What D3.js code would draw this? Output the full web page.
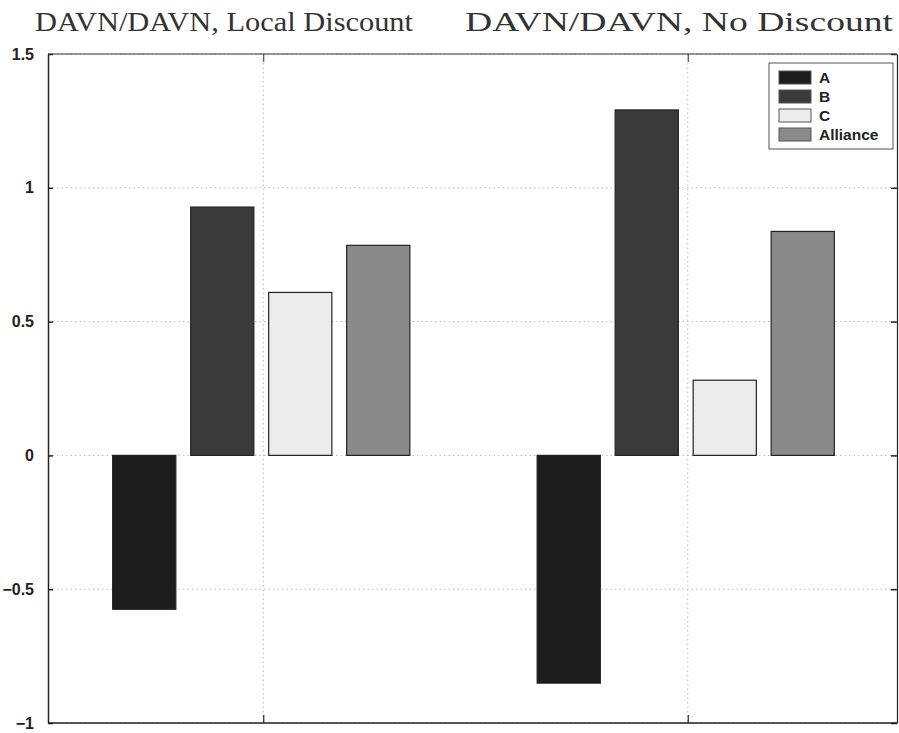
<!DOCTYPE html>
<html><head><meta charset="utf-8">
<script src="https://cdn.jsdelivr.net/npm/d3@7"></script>
<style>body{margin:0;background:#fff}svg{display:block}</style>
</head><body>
<svg id="chart" width="899" height="733"></svg>
<script>
const groups = [1, 2];
const titles = ["DAVN/DAVN, Local Discount", "DAVN/DAVN, No Discount"];
const series = ["A", "B", "C", "Alliance"];
const valuesA = [-0.575, -0.851];
const valuesB = [0.928, 1.291];
const valuesC = [0.609, 0.281];
const valuesAlliance = [0.785, 0.837];
const yTicks = [-1, -0.5, 0, 0.5, 1, 1.5];
const yTickLabels = ["\u22121", "\u22120.5", "0", "0.5", "1", "1.5"];
const colors = ["#1c1c1c", "#3a3a3a", "#ececec", "#8a8a8a"];

const seriesValues = [valuesA, valuesB, valuesC, valuesAlliance];

const svg = d3.select("#chart");
const L = 48, R = 897, T = 54, B = 723;

const x = d3.scaleLinear().domain([0.5, 2.5]).range([L + 1, R + 1]);
const y = d3.scaleLinear().domain([-1, 1.5]).range([B, T]);
const groupW = x(1.735) - x(1);
const inner = d3.scaleBand().domain(series).range([-groupW/2, groupW/2]).paddingInner(0.19).paddingOuter(0.095);

// grid
const grid = svg.append("g");
grid.selectAll("line.h").data(yTicks).join("line")
  .attr("x1", L).attr("x2", R).attr("y1", d => y(d)).attr("y2", d => y(d))
  .attr("stroke", "#b8b8b8").attr("stroke-width", 1).attr("stroke-dasharray", "1.5,3");
grid.selectAll("line.v").data(groups).join("line")
  .attr("y1", T).attr("y2", B).attr("x1", d => x(d) + 2).attr("x2", d => x(d) + 2)
  .attr("stroke", "#b8b8b8").attr("stroke-width", 1).attr("stroke-dasharray", "1.5,3");

// bars
series.forEach((s, si) => {
  svg.append("g").selectAll("rect").data(groups.map((g, gi) => ({g, v: seriesValues[si][gi]}))).join("rect")
    .attr("x", d => x(d.g) + inner(s))
    .attr("width", inner.bandwidth())
    .attr("y", d => y(Math.max(0, d.v)))
    .attr("height", d => Math.abs(y(d.v) - y(0)))
    .attr("fill", colors[si])
    .attr("stroke", "#222").attr("stroke-width", 1.2);
});

// axes
const axL = d3.axisLeft(y).tickValues(yTicks).tickFormat((d, i) => yTickLabels[i]).tickSize(5).tickSizeOuter(0);
const gL = svg.append("g").attr("transform", `translate(${L},0)`).call(axL);
gL.select(".domain").attr("stroke", "#222").attr("stroke-width", 1.5);
gL.selectAll(".tick line").attr("stroke", "#222").attr("x2", 5).attr("stroke-width", 1.5);
gL.selectAll(".tick text").attr("x", -14).attr("font-family", "Liberation Sans, Arial, sans-serif")
  .attr("font-weight", "bold").attr("font-size", 16).attr("fill", "#222");

const axR = d3.axisRight(y).tickValues(yTicks).tickFormat("").tickSizeOuter(0).tickSize(0);
const gR = svg.append("g").attr("transform", `translate(${R},0)`).call(axR);
gR.select(".domain").attr("stroke", "#222").attr("stroke-width", 1.2);
gR.selectAll(".tick line").attr("stroke", "#222").attr("x2", -6).attr("stroke-width", 1.5);

const axB = d3.axisBottom(x).tickValues(groups).tickFormat("").tickSizeOuter(0).tickSize(0);
const gB = svg.append("g").attr("transform", `translate(2,${B})`).call(axB);
gB.select(".domain").attr("stroke", "#222").attr("stroke-width", 1.5);
gB.selectAll(".tick line").attr("stroke", "#222").attr("y2", -8).attr("stroke-width", 1.2);

const axT = d3.axisTop(x).tickValues(groups).tickFormat("").tickSizeOuter(0).tickSize(0);
const gT = svg.append("g").attr("transform", `translate(2,${T})`).call(axT);
gT.select(".domain").attr("stroke", "#333").attr("stroke-width", 1.2);
gT.selectAll(".tick line").attr("stroke", "#333").attr("y2", 8).attr("stroke-width", 1);
gB.select(".domain").attr("d", `M${L - 2},0H${R - 2}`);
gT.select(".domain").attr("d", `M${L - 2},0H${R - 2}`);

// titles
const titleX = [35, 465];
svg.append("g").selectAll("text").data(titles).join("text")
  .attr("x", (d, i) => titleX[i]).attr("y", 31)
  .attr("textLength", (d, i) => i === 0 ? 378 : 428).attr("lengthAdjust", "spacingAndGlyphs")
  .attr("font-family", "Liberation Serif, Times New Roman, serif").attr("font-size", 27)
  .attr("fill", "#333").text(d => d);

// legend
const lg = svg.append("g").attr("transform", "translate(769,63)");
lg.append("rect").attr("width", 124).attr("height", 86).attr("fill", "#fff").attr("stroke", "#555").attr("stroke-width", 1);
const ly = d3.scaleBand().domain(series).range([5, 81]);
lg.selectAll("rect.sw").data(series).join("rect").attr("class", "sw")
  .attr("x", 10).attr("y", d => ly(d) + 3).attr("width", 32).attr("height", ly.bandwidth() - 6)
  .attr("fill", (d, i) => colors[i]).attr("stroke", "#555").attr("stroke-width", 1);
lg.selectAll("text").data(series).join("text")
  .attr("x", 50).attr("y", d => ly(d) + ly.bandwidth()/2 + 5.5)
  .attr("font-family", "Liberation Sans, Arial, sans-serif").attr("font-weight", "bold")
  .attr("font-size", 15.5).attr("fill", "#222").text(d => d);
</script>
</body></html>
